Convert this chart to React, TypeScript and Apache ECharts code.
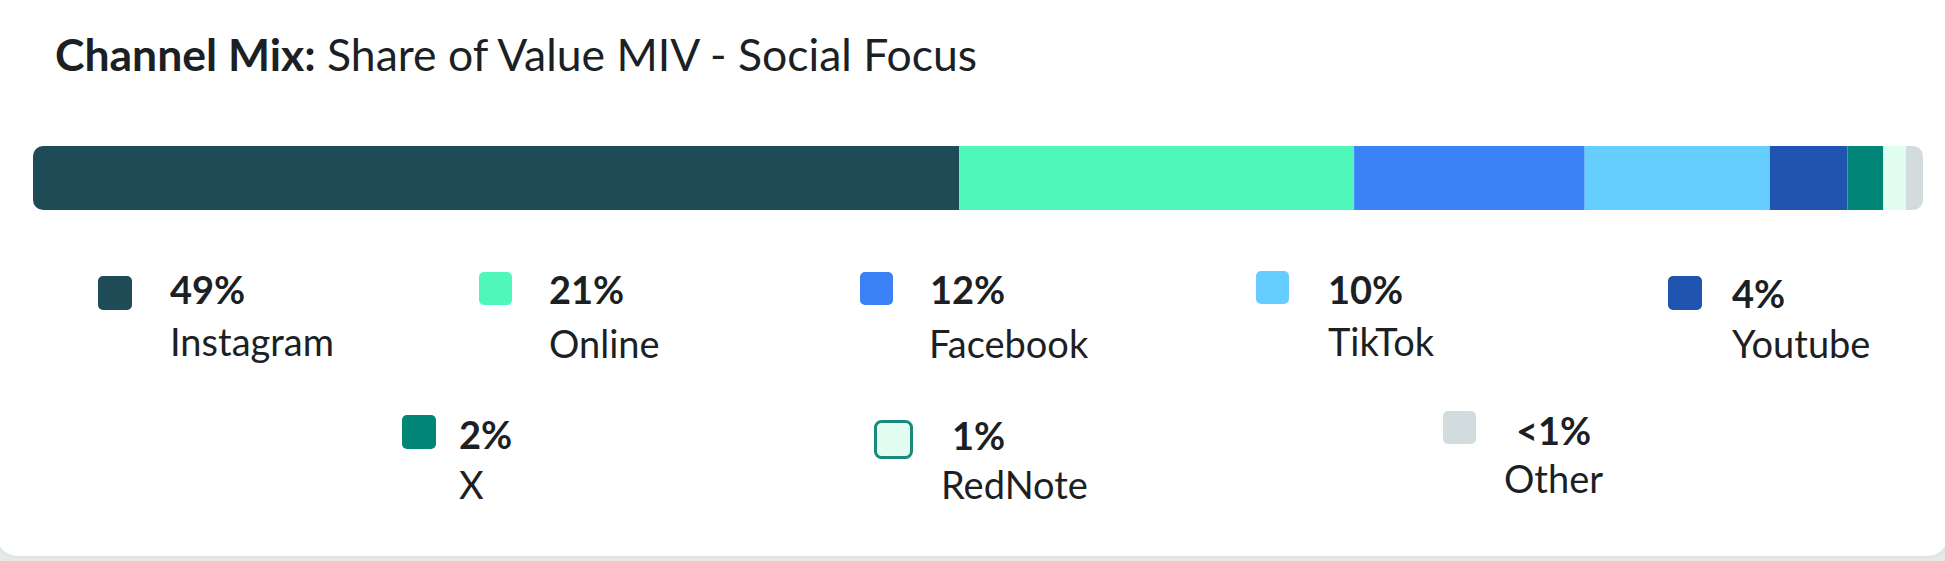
import React, { useEffect, useRef } from "react";
import * as echarts from "echarts";

const TITLE_BOLD = "Channel Mix:";
const TITLE_REST = " Share of Value MIV - Social Focus";

const CHANNELS = ["Instagram", "Online", "Facebook", "TikTok", "Youtube", "X", "RedNote", "Other"];
const SHARES = [49.0, 20.9, 12.2, 9.8, 4.1, 1.9, 1.2, 0.9];
const COLORS = ["#1F4B57", "#4FF7BD", "#3B82F6", "#66CDFF", "#1F55B0", "#008577", "#E1FCF1", "#D2DCDF"];
const SWATCH_BORDERS = [null, null, null, null, null, null, "#1B8A7A", null];

// legend layout: swatch x, y, size; pct x, mid-y; name x, mid-y
const LEGEND_LAYOUT = [
  { sx: 98, sy: 276, ss: 34, px: 170, py: 289, nx: 170, ny: 341 },
  { sx: 479, sy: 272, ss: 33, px: 549, py: 289, nx: 549, ny: 343 },
  { sx: 860, sy: 272, ss: 33, px: 930, py: 289, nx: 929, ny: 343 },
  { sx: 1256, sy: 271, ss: 33, px: 1328, py: 289, nx: 1328, ny: 341 },
  { sx: 1668, sy: 276, ss: 34, px: 1732, py: 293, nx: 1732, ny: 343 },
  { sx: 402, sy: 415, ss: 34, px: 459, py: 434, nx: 459, ny: 484 },
  { sx: 874, sy: 420, ss: 39, px: 952, py: 435, nx: 941, ny: 484 },
  { sx: 1443, sy: 411, ss: 33, px: 1516, py: 430, nx: 1504, ny: 478 },
];

const fmtPct = (v: number) => (v < 1 ? "<1%" : Math.round(v) + "%");

const FONT = "Lato, 'Noto Sans', sans-serif";
const TEXT_COLOR = "#1C1F24";

export default function App() {
  const ref = useRef<HTMLDivElement>(null);

  useEffect(() => {
    document.body.style.margin = "0";
    if (!ref.current) return;
    const chart = echarts.init(ref.current, null, { renderer: "svg" });
    const total = SHARES.reduce((a, b) => a + b, 0);
    const last = SHARES.length - 1;

    const series = SHARES.map((v, i) => ({
      name: CHANNELS[i],
      type: "bar",
      stack: "total",
      data: [v],
      barWidth: "100%",
      silent: true,
      itemStyle: {
        color: COLORS[i],
        borderRadius: i === 0 ? [10, 0, 0, 10] : i === last ? [0, 10, 10, 0] : 0,
      },
    }));

    const legendEls: any[] = [];
    CHANNELS.forEach((name, i) => {
      const L = LEGEND_LAYOUT[i];
      const border = SWATCH_BORDERS[i];
      legendEls.push({
        type: "rect",
        shape: border
          ? { x: L.sx + 1.5, y: L.sy + 1.5, width: L.ss - 3, height: L.ss - 3, r: 6 }
          : { x: L.sx, y: L.sy, width: L.ss, height: L.ss, r: 5 },
        style: border ? { fill: COLORS[i], stroke: border, lineWidth: 3 } : { fill: COLORS[i] },
      });
      legendEls.push({
        type: "text",
        x: L.px,
        y: L.py,
        style: {
          text: fmtPct(SHARES[i]),
          fontFamily: FONT,
          fontWeight: "bold",
          fontSize: 38,
          fill: TEXT_COLOR,
          verticalAlign: "middle",
          align: "left",
        },
      });
      legendEls.push({
        type: "text",
        x: L.nx,
        y: L.ny,
        style: {
          text: name,
          fontFamily: FONT,
          fontSize: 38,
          fill: TEXT_COLOR,
          verticalAlign: "middle",
          align: "left",
        },
      });
    });

    chart.setOption({
      animation: false,
      backgroundColor: "#E6EBEA",
      grid: { left: 33, width: 1890, top: 146, height: 64 },
      xAxis: { type: "value", min: 0, max: total, show: false },
      yAxis: { type: "category", data: ["Share"], show: false },
      series,
      graphic: [
        {
          type: "rect",
          z: -10,
          shape: { x: -4, y: -30, width: 1953, height: 586, r: 22 },
          style: { fill: "#FFFFFF", shadowBlur: 4, shadowColor: "rgba(0,0,0,0.06)", shadowOffsetY: 1 },
        },
        {
          type: "text",
          x: 55,
          y: 53,
          style: {
            text: "{b|" + TITLE_BOLD + "}" + TITLE_REST,
            fontFamily: FONT,
            fontSize: 44.5,
            fill: TEXT_COLOR,
            verticalAlign: "middle",
            rich: {
              b: { fontFamily: FONT, fontSize: 44.5, fontWeight: "bold", fill: TEXT_COLOR },
            },
          },
        },
        ...legendEls,
      ],
    });
    return () => chart.dispose();
  }, []);

  return <div ref={ref} style={{ width: 1945, height: 561, position: "absolute", left: 0, top: 0 }} />;
}
